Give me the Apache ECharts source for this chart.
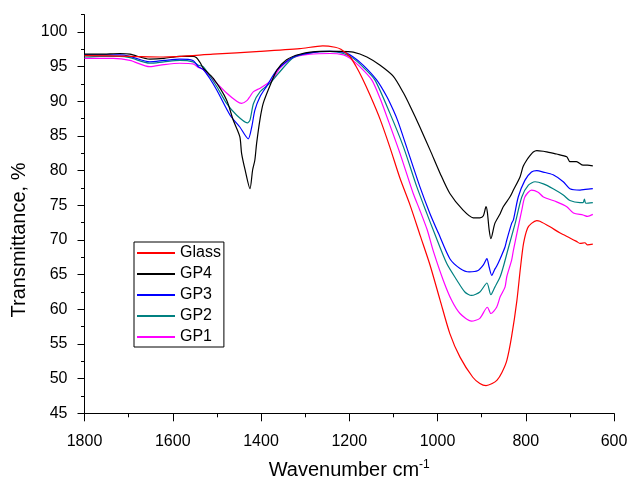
<!DOCTYPE html>
<html>
<head>
<meta charset="utf-8">
<script src="https://cdn.jsdelivr.net/npm/echarts@6/dist/echarts.min.js"></script>
<style>html,body{margin:0;padding:0;background:#fff;}#chart{width:630px;height:478px;}</style>
</head>
<body>
<div id="chart"></div>
<script>
var seriesNames = ['Glass', 'GP4', 'GP3', 'GP2', 'GP1'];
var yTickLabels = [45, 50, 55, 60, 65, 70, 75, 80, 85, 90, 95, 100];
var yMinorTicks = [47.5, 52.5, 57.5, 62.5, 67.5, 72.5, 77.5, 82.5, 87.5, 92.5, 97.5, 102.5];

var glassWn = [1800,1697,1622,1509,1402,1312,1260,1232,1219,1198,1185,1171,1153,1130,1108,1085,1062,1039,1017,994,972,949,920,904,890,876,865,854,843,832,820,812,805,796,787,775,768,745,722,700,685,677,666,660,648];
var glassT = [96.6,96.5,96.4,96.8,97.2,97.6,98.0,97.8,97.5,96.4,95.1,93.4,90.9,87.4,83.4,78.9,75.0,70.6,66.4,61.3,56.5,53.1,50.2,49.3,49.0,49.3,49.8,50.9,52.6,56.1,61.3,66.0,69.5,71.7,72.4,72.8,72.7,71.9,71.0,70.3,69.8,69.5,69.6,69.3,69.4];

var gp4Wn = [1800,1765,1720,1697,1652,1620,1584,1554,1546,1538,1531,1508,1478,1463,1448,1444,1436,1425,1419,1414,1410,1402,1395,1380,1364,1342,1312,1266,1221,1191,1160,1130,1100,1077,1062,1040,1017,994,972,942,919,904,896,890,887,883,879,870,858,851,836,828,813,806,798,790,783,775,760,752,730,707,700,685,670,660,648];
var gp4T = [96.8,96.8,96.9,96.8,96.1,96.2,96.5,96.5,96.3,95.6,94.8,93.3,90.2,87.3,84.9,82.5,80.1,77.4,80.1,81.5,83.9,87.5,89.7,92.2,94.5,96.0,96.8,97.2,97.2,97.1,96.4,95.2,93.6,91.2,89.3,86.3,83.0,79.6,76.7,74.3,73.2,73.2,73.5,74.8,74.0,71.5,70.2,72.4,73.8,74.8,76.2,77.2,79.1,80.6,81.5,82.2,82.7,82.9,82.8,82.7,82.4,82.0,81.3,81.3,80.8,80.8,80.7];

var gp3Wn = [1800,1765,1720,1697,1652,1620,1584,1554,1542,1531,1516,1500,1470,1448,1429,1421,1414,1402,1387,1364,1327,1289,1244,1213,1191,1168,1138,1115,1100,1089,1070,1040,1017,998,972,949,928,908,896,888,883,877,870,866,858,847,843,832,828,817,802,787,775,760,738,715,700,677,665,648];
var gp3T = [96.7,96.7,96.7,96.5,95.7,95.9,96.1,95.9,95.0,94.6,93.3,91.6,88.0,86.3,84.6,86.3,88.7,90.7,92.2,94.5,96.4,97.0,97.2,97.1,96.4,95.2,93.1,90.7,88.7,87.0,83.4,77.7,73.8,71.0,67.3,65.9,65.4,65.6,66.4,67.3,66.1,64.9,65.8,66.2,67.3,69.0,70.0,72.4,72.9,76.2,78.6,79.8,80.0,79.8,79.4,78.4,77.4,77.2,77.3,77.4];

var gp2Wn = [1800,1765,1720,1697,1652,1620,1584,1554,1542,1531,1500,1478,1455,1431,1425,1417,1402,1380,1361,1327,1289,1244,1213,1191,1168,1142,1108,1077,1047,1024,1007,979,956,938,923,904,888,879,870,858,851,840,824,809,794,779,760,738,715,700,677,670,667,664,648];
var gp2T = [96.4,96.5,96.5,96.3,95.5,95.7,95.9,95.7,95.2,95.0,92.1,89.7,88.0,86.9,87.3,89.7,91.4,92.6,94.0,96.3,97.0,97.2,96.9,96.2,94.9,93.1,88.3,83.4,77.7,73.8,71.0,66.6,64.2,62.5,62.0,62.5,63.8,62.1,63.2,64.7,66.1,68.7,72.4,76.2,77.9,78.4,78.1,77.4,76.5,75.7,75.4,75.4,75.9,75.3,75.4];

var gp1Wn = [1800,1735,1697,1652,1620,1584,1554,1542,1531,1500,1478,1455,1444,1432,1425,1417,1402,1387,1372,1357,1327,1289,1244,1213,1198,1176,1149,1130,1112,1085,1055,1040,1023,1010,987,968,949,923,904,887,879,866,858,847,843,832,828,817,809,802,787,772,760,730,707,692,670,660,648];
var gp1T = [96.2,96.2,95.9,95.0,95.3,95.5,95.4,94.9,94.6,92.6,91.2,90.0,89.7,90.1,90.7,91.4,91.9,92.5,93.3,94.8,96.3,96.8,96.9,96.7,96.2,95.0,93.1,90.4,87.3,82.5,76.7,74.3,71.4,68.5,64.2,61.3,59.4,58.3,58.7,60.3,59.4,60.3,61.8,63.2,64.7,67.1,68.5,71.9,74.3,76.2,77.2,76.9,76.2,75.5,74.8,73.9,73.6,73.4,73.7];

var colors = ['#ff0000', '#000000', '#0000ff', '#008080', '#ff00ff'];

function zip(xs, ys) {
  var out = [];
  for (var i = 0; i < xs.length; i++) out.push([xs[i], ys[i]]);
  return out;
}
var allData = [zip(glassWn, glassT), zip(gp4Wn, gp4T), zip(gp3Wn, gp3T), zip(gp2Wn, gp2T), zip(gp1Wn, gp1T)];

var FONT = '"Liberation Sans", Arial, sans-serif';
var chart = echarts.init(document.getElementById('chart'), null, {renderer: 'canvas'});
var series = seriesNames.map(function (n, i) {
  return {
    name: n, type: 'line', data: allData[i], symbol: 'none', smooth: 0.25,
    lineStyle: {color: colors[i], width: 1.2}, itemStyle: {color: colors[i]},
    z: 10 - i, animation: false
  };
});

chart.setOption({
  animation: false,
  backgroundColor: '#ffffff',
  grid: {left: 84.5, top: 14.7, width: 529.5, height: 398.6, containLabel: false, outerBoundsMode: 'none'},
  legend: {
    data: seriesNames, orient: 'vertical', left: 134, top: 242,
    icon: 'rect', itemWidth: 38, itemHeight: 2, itemGap: 5,
    padding: [3, 3, 2, 3],
    borderColor: '#000', borderWidth: 1,
    textStyle: {fontFamily: FONT, fontSize: 16, color: '#000', lineHeight: 16}
  },
  xAxis: {
    type: 'value', min: 600, max: 1800, interval: 200, inverse: true,
    name: 'Wavenumber cm{sup|-1}', nameLocation: 'middle', nameGap: 45,
    nameTextStyle: {fontFamily: FONT, fontSize: 20, color: '#000',
      rich: {sup: {fontFamily: FONT, fontSize: 12, color: '#000', padding: [0, 0, 12, 0]}}},
    axisLine: {show: true, lineStyle: {color: '#000', width: 1}},
    axisTick: {show: true, inside: false, length: 8, lineStyle: {color: '#000'}},
    minorTick: {show: true, splitNumber: 2, length: 4, lineStyle: {color: '#000'}},
    axisLabel: {fontFamily: FONT, fontSize: 16, color: '#000', margin: 20,
      formatter: function (v) { return String(v); }},
    splitLine: {show: false}
  },
  yAxis: [{
    type: 'value', min: 45, max: 102.5, interval: 5,
    name: 'Transmittance, %', nameLocation: 'middle', nameGap: 52,
    nameTextStyle: {fontFamily: FONT, fontSize: 20, color: '#000', padding: [0, 52, 0, 0]},
    axisLine: {show: true, lineStyle: {color: '#000', width: 1}},
    axisTick: {show: true, inside: false, length: 7, customValues: yTickLabels, lineStyle: {color: '#000'}},
    axisLabel: {fontFamily: FONT, fontSize: 16, color: '#000', margin: 17, customValues: yTickLabels,
      formatter: function (v) { return v > 100 ? '' : String(v); }},
    splitLine: {show: false}
  }, {
    type: 'value', min: 45, max: 102.5, interval: 2.5, position: 'left', offset: 0,
    axisLine: {show: false},
    axisTick: {show: true, inside: false, length: 3.5, customValues: yMinorTicks, lineStyle: {color: '#000'}},
    axisLabel: {show: false},
    splitLine: {show: false}
  }],
  series: series
});
</script>
</body>
</html>
